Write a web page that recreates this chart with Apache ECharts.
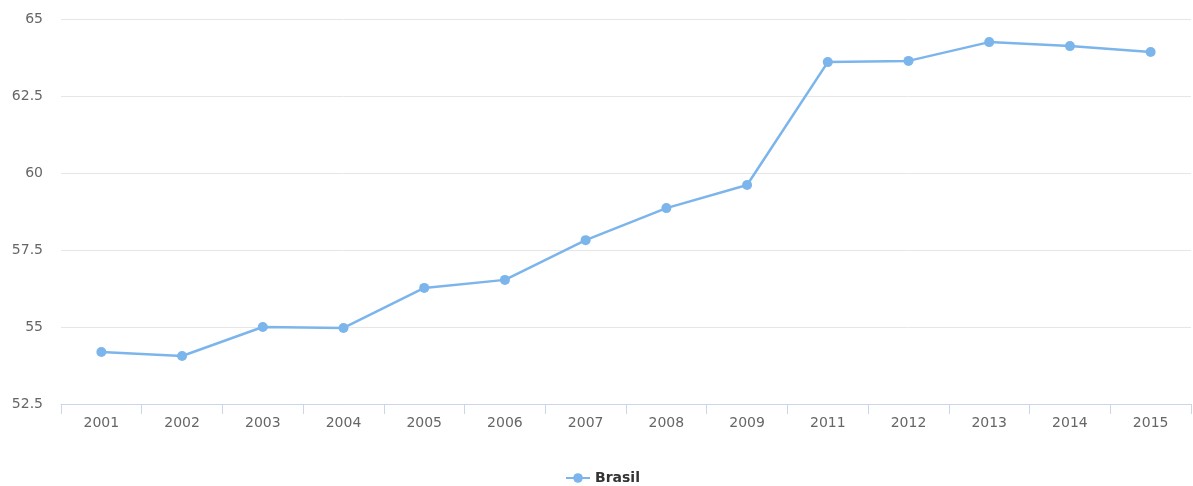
<!DOCTYPE html>
<html>
<head>
<meta charset="utf-8">
<script src="https://cdn.jsdelivr.net/npm/echarts@6/dist/echarts.min.js"></script>
<style>
  html, body { margin: 0; padding: 0; background: #fff; }
  #chart { width: 1193px; height: 486px; }
</style>
</head>
<body>
<div id="chart"></div>
<script>
// 年別の値（2010年はデータなし）
const years = ['2001', '2002', '2003', '2004', '2005', '2006', '2007', '2008', '2009', '2011', '2012', '2013', '2014', '2015'];
const brasil = [54.19, 54.06, 55.0, 54.97, 56.27, 56.53, 57.82, 58.86, 59.61, 63.6, 63.64, 64.25, 64.12, 63.93];
const seriesName = 'Brasil';

const chart = echarts.init(document.getElementById('chart'));

const option = {
    animation: false,
    textStyle: { fontFamily: '"DejaVu Sans", sans-serif' },
    grid: {
        left: 61,
        right: 2,
        top: 19,
        bottom: 82
    },
    legend: {
        left: 560,
        top: 466,
        itemWidth: 24,
        itemHeight: 12,
        data: [seriesName],
        textStyle: { color: '#333', fontSize: 14, fontWeight: 'bold' }
    },
    xAxis: {
        type: 'category',
        data: years,
        boundaryGap: true,
        axisLine: { lineStyle: { color: '#ccd6eb', width: 1 } },
        axisTick: { show: true, length: 10, lineStyle: { color: '#ccd6eb' } },
        axisLabel: { color: '#666', fontSize: 14, margin: 12 },
        splitLine: { show: false }
    },
    yAxis: {
        type: 'value',
        min: 52.5,
        max: 65,
        interval: 2.5,
        axisLine: { show: false },
        axisTick: { show: false },
        axisLabel: { color: '#666', fontSize: 14, margin: 18 },
        splitLine: { lineStyle: { color: '#e6e6e6', width: 1 } }
    },
    series: [{
        name: seriesName,
        type: 'line',
        data: brasil,
        symbol: 'circle',
        symbolSize: 10,
        lineStyle: { color: '#7cb5ec', width: 2.5 },
        itemStyle: { color: '#7cb5ec' }
    }]
};

chart.setOption(option);
</script>
</body>
</html>
